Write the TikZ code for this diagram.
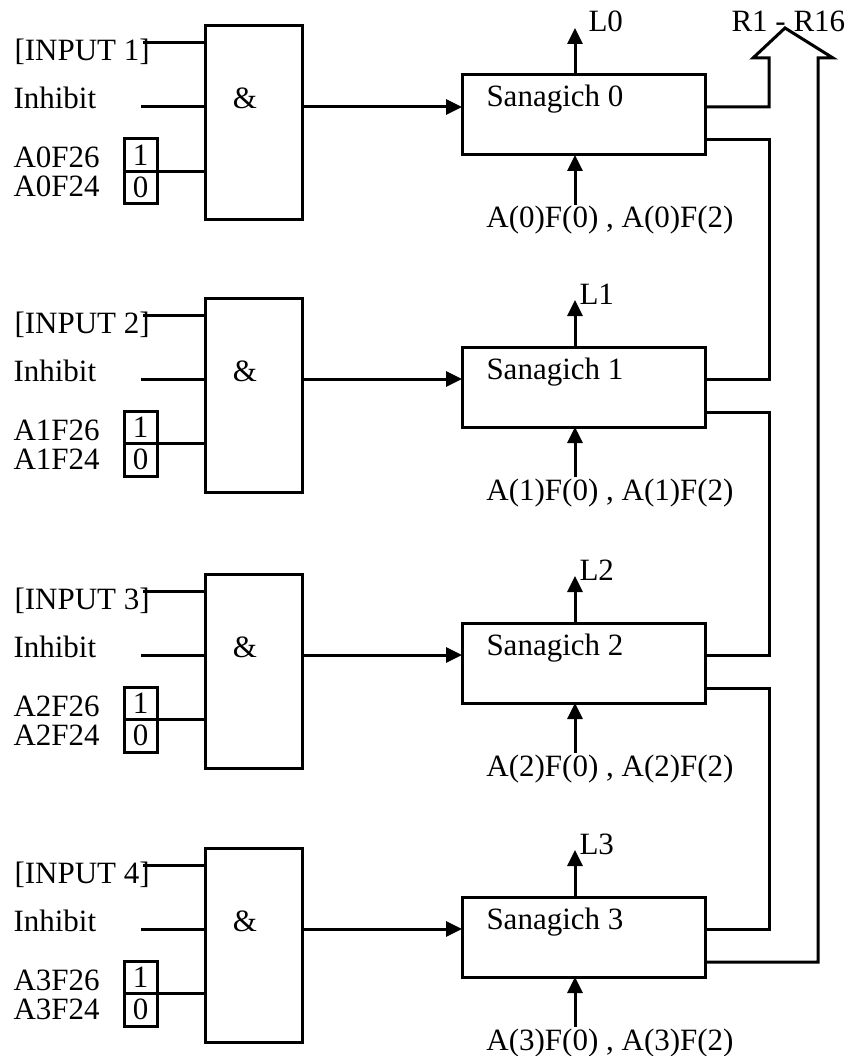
\documentclass[tikz,border=0pt]{standalone}
\usepackage{fontspec}
\setmainfont{Liberation Serif}
\usetikzlibrary{arrows.meta}
\begin{document}
\begin{tikzpicture}[x=1pt,y=-1pt,line width=3pt,
  font=\fontsize{31}{37}\selectfont,
  txt/.style={inner sep=0pt,anchor=base west},
  ctxt/.style={inner sep=0pt,anchor=base},
  gate/.style={draw,minimum width=97pt,minimum height=194pt,anchor=north west,inner sep=0pt,outer sep=0pt},
  sbox/.style={draw,minimum width=243pt,minimum height=80pt,anchor=north west,inner sep=0pt,outer sep=0pt},
  bit/.style={draw,minimum width=33pt,minimum height=32.5pt,anchor=north west,inner sep=0pt,outer sep=0pt},
  arr/.style={-{Triangle[length=16pt,width=15pt]}}]
\useasboundingbox (0,0) rectangle (850,1056);
\foreach \i/\ty/\lx in {0/26/587,1/298/578,2/574/578,3/848/578}{
  \pgfmathtruncatemacro\n{\i+1}
  \node[gate] (g\i) at (205,\ty) {};
  \node[ctxt] (amp\i) at (245,\ty+83) {\&};
  \node[txt] (in\i) at (13,\ty+35) {[INPUT \n]};
  \node[txt] (ih\i) at (12,\ty+83) {Inhibit};
  \node[txt] (a6\i) at (12,\ty+142) {A\i F26};
  \node[txt] (a4\i) at (12,\ty+171) {A\i F24};
  \node[bit] (b1\i) at (124,\ty+113) {1};
  \node[bit] (b0\i) at (124,\ty+145.5) {0};
  \coordinate (ci\i) at (143,\ty+17);
  \coordinate (ch\i) at (141,\ty+81);
  \draw (ci\i) -- (ci\i -| g\i.west);
  \draw (ch\i) -- (ch\i -| g\i.west);
  \draw (b1\i.south east) -- (b1\i.south east -| g\i.west);
  \node[sbox] (s\i) at (462,\ty+49) {};
  \node[txt] (sl\i) at (485,\ty+81) {Sanagich \i};
  \draw[arr] (ch\i -| g\i.east) -- (ch\i -| s\i.west);
  \coordinate (lt\i) at (575,\ty+2);
  \draw[arr] (lt\i |- s\i.north) -- (lt\i);
  \node[txt] (ll\i) at (\lx,\ty+6) {L\i};
  \coordinate (ab\i) at (575,\ty+179);
  \draw[arr] (ab\i) -- (ab\i |- s\i.south);
  \node[ctxt] (al\i) at (610,\ty+202) {A(\i)F(0) , A(\i)F(2)};
  \coordinate (oa\i) at (705,\ty+81);
  \coordinate (ob\i) at (705,\ty+114);
}
\coordinate (busa) at (769,0);
\coordinate (busb) at (818,0);
\draw (ob0) -- (ob0 -| busa) -- (oa1 -| busa) -- (oa1);
\draw (ob1) -- (ob1 -| busa) -- (oa2 -| busa) -- (oa2);
\draw (ob2) -- (ob2 -| busa) -- (oa3 -| busa) -- (oa3);
\coordinate (sl) at (769,58);
\coordinate (sll) at (753,58);
\coordinate (apex) at (785,28);
\coordinate (srr) at (833,58);
\coordinate (sr) at (818,58);
\draw (ob3) -- (ob3 -| busb) -- (sr) -- (srr) -- (apex) -- (sll) -- (sl) -- (oa0 -| busa) -- (oa0);
\node[txt] (rr) at (730,32) {R1 - R16};
\end{tikzpicture}
\end{document}
